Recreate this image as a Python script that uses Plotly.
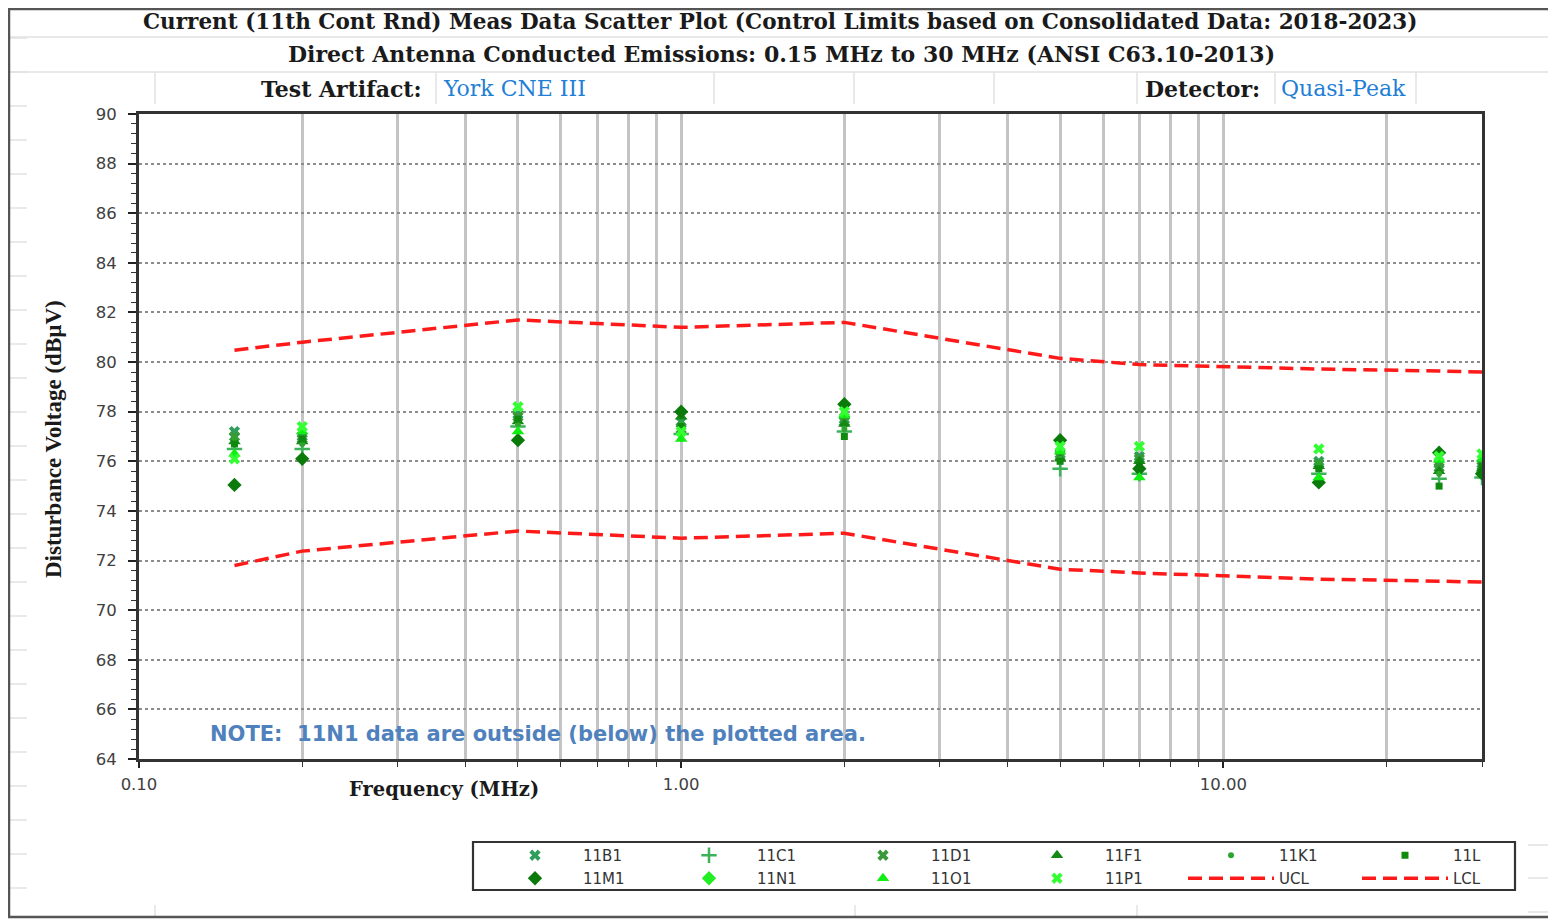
import plotly.graph_objects as go

# ---------------- data ----------------
FREQ_MHZ = [0.15, 0.2, 0.5, 1.0, 2.0, 5.0, 7.0, 15.0, 25.0, 30.0]

S_11B1 = [77.2, 77.0, 77.9, 77.6, 77.7, 76.3, 76.2, 76.0, 75.9, 75.9]
S_11C1 = [76.5, 76.5, 77.4, 77.1, 77.2, 75.7, 75.5, 75.5, 75.3, 75.35]
S_11D1 = [77.0, 76.9, 77.8, 77.3, 77.6, 76.2, 76.1, 75.9, 75.75, 75.8]
S_11F1 = [76.8, 76.8, 77.6, 77.8, 77.5, 76.1, 76.0, 75.8, 75.6, 75.7]
S_11K1 = [76.9, 76.7, 77.5, 77.5, 77.3, 76.1, 75.8, 75.9, 75.5, 75.6]
S_11L = [76.7, 76.9, 77.7, 77.4, 77.0, 76.0, 75.9, 75.7, 75.0, 75.8]
S_11M1 = [75.05, 76.1, 76.85, 78.0, 78.3, 76.85, 75.7, 75.15, 76.35, 75.5]
S_11N1 = [None] * 10   # outside (below) the plotted area
S_11O1 = [76.3, 77.2, 77.2, 76.9, 77.85, 76.4, 75.35, 75.35, 76.05, 76.1]
S_11P1 = [76.1, 77.4, 78.2, 77.2, 78.0, 76.6, 76.6, 76.5, 76.2, 76.3]

UCL = [80.48, 80.8, 81.7, 81.4, 81.6, 80.15, 79.9, 79.72, 79.64, 79.6]
LCL = [71.8, 72.38, 73.19, 72.9, 73.1, 71.65, 71.5, 71.25, 71.17, 71.13]

X_TICKS = [0.1, 1, 10]
X_TICK_TEXT = ["0.10", "1.00", "10.00"]
X_MINOR = [0.2, 0.3, 0.4, 0.5, 0.6, 0.7, 0.8, 0.9,
           2, 3, 4, 5, 6, 7, 8, 9, 20, 30]

# ---------------- layout helpers ----------------
OFF = 8                      # page body margin
FW, FH = 1556 - OFF, 919 - OFF
L, R, T, B = 139 - OFF, 74, 114 - OFF, 160
PW = FW - L - R
PH = FH - T - B


def px(x):
    """page pixel x -> paper fraction"""
    return (x - OFF - L) / PW


def py(y):
    """page pixel y -> paper fraction"""
    return (FH - B - (y - OFF)) / PH


SERIF_W = "DejaVu Serif, serif"
SERIF = "Liberation Serif, Times New Roman, serif"
SANS = "DejaVu Sans, Arial, sans-serif"

fig = go.Figure()

marker_specs = [
    ("11B1", S_11B1, "x", "#2e9e5b", 10, "legend"),
    ("11C1", S_11C1, "cross-thin-open", "#3cb35a", 11, "legend"),
    ("11D1", S_11D1, "x", "#3a9a3a", 10, "legend"),
    ("11F1", S_11F1, "triangle-up", "#148a14", 11, "legend"),
    ("11K1", S_11K1, "circle", "#2fa52f", 6, "legend"),
    ("11L", S_11L, "square", "#0f8a0f", 7, "legend"),
    ("11M1", S_11M1, "diamond", "#0a7a0a", 11, "legend2"),
    ("11N1", S_11N1, "diamond", "#22ee22", 11, "legend2"),
    ("11O1", S_11O1, "triangle-up", "#11ee11", 11, "legend2"),
    ("11P1", S_11P1, "x", "#33ff33", 10, "legend2"),
]

for name, vals, sym, col, size, leg in marker_specs:
    mk = dict(symbol=sym, color=col, size=size)
    if sym == "cross-thin-open":
        mk["line"] = dict(color=col, width=2.5)
    else:
        mk["line"] = dict(width=0)
    fig.add_trace(go.Scatter(
        x=FREQ_MHZ, y=vals, mode="markers", name=name,
        marker=mk, legend=leg, cliponaxis=True))

for name, vals in (("UCL", UCL), ("LCL", LCL)):
    fig.add_trace(go.Scatter(
        x=FREQ_MHZ, y=vals, mode="lines", name=name, legend="legend2",
        line=dict(color="#ff1a1a", width=3.5, dash="14px,7px")))

# ---------------- annotations ----------------
ann = []


def text(x, y, s, size, color="#1a1a1a", family=SERIF_W, xanchor="center",
         angle=0):
    ann.append(dict(x=px(x), y=py(y), xref="paper", yref="paper", text=s,
                    showarrow=False, xanchor=xanchor, yanchor="middle",
                    textangle=angle,
                    font=dict(family=family, size=size, color=color)))


text(780, 21, "<b>Current (11th Cont Rnd) Meas Data Scatter Plot (Control Limits "
     "based on Consolidated Data: 2018-2023)</b>", 21.5)
text(781, 54, "<b>Direct Antenna Conducted Emissions: 0.15 MHz to 30 MHz "
     "(ANSI C63.10-2013)</b>", 22)
text(424, 89, "<b>Test Artifact:</b>", 22, xanchor="right")
text(441, 89, "York CNE III", 22, color="#1f7fd6", xanchor="left")
text(1262, 89, "<b>Detector:</b>", 22, xanchor="right")
text(1279, 89, "Quasi-Peak", 22, color="#1f7fd6", xanchor="left")
text(444, 789, "<b>Frequency (MHz)</b>", 19.5)
text(53, 439, "<b>Disturbance Voltage (dBµV)</b>", 23, family=SERIF, angle=-90)
text(208, 734, "<b>NOTE:\u00a0 11N1 data are outside (below) the plotted area.</b>",
     21, color="#4f81bd", family=SANS, xanchor="left")

# ---------------- shapes (page decoration) ----------------
shapes = []
faint = "#e2e2e2"
for yy in (37, 72):
    shapes.append(dict(type="line", xref="paper", yref="paper",
                       x0=px(9), x1=px(1552), y0=py(yy), y1=py(yy),
                       line=dict(color=faint, width=1.5)))
for xx in (155, 436, 714, 854, 994, 1137, 1275, 1416):
    shapes.append(dict(type="line", xref="paper", yref="paper",
                       x0=px(xx), x1=px(xx), y0=py(72), y1=py(104),
                       line=dict(color=faint, width=1.5)))
for yy in range(38, 919, 34):
    shapes.append(dict(type="line", xref="paper", yref="paper",
                       x0=px(9), x1=px(27), y0=py(yy), y1=py(yy),
                       line=dict(color=faint, width=1.5)))
for yy in (845, 878, 912):
    shapes.append(dict(type="line", xref="paper", yref="paper",
                       x0=px(1528), x1=px(1552), y0=py(yy), y1=py(yy),
                       line=dict(color=faint, width=1.5)))
for xx in (155, 855, 1137):
    shapes.append(dict(type="line", xref="paper", yref="paper",
                       x0=px(xx), x1=px(xx), y0=py(905), y1=py(917),
                       line=dict(color=faint, width=1.5)))
# outer frame
shapes.append(dict(type="rect", xref="paper", yref="paper",
                   x0=px(9), x1=px(1552), y0=py(917), y1=py(9),
                   line=dict(color="#555555", width=2.5)))
# legend box
shapes.append(dict(type="rect", xref="paper", yref="paper",
                   x0=px(473), x1=px(1515), y0=py(890), y1=py(842),
                   line=dict(color="#333333", width=2.2),
                   fillcolor="white"))

legend_common = dict(orientation="h", xanchor="left", yanchor="top",
                     entrywidth=73, entrywidthmode="pixels", itemwidth=86,
                     font=dict(family=SANS, size=15, color="#333333"),
                     bgcolor="rgba(0,0,0,0)", borderwidth=0,
                     traceorder="normal", itemclick=False,
                     itemdoubleclick=False)

fig.update_layout(
    width=FW, height=FH,
    margin=dict(l=L, r=R, t=T, b=B, autoexpand=False),
    paper_bgcolor="white", plot_bgcolor="white",
    showlegend=True,
    legend=dict(x=px(487), y=py(839), **legend_common),
    legend2=dict(x=px(487), y=py(862), **legend_common),
    annotations=ann, shapes=shapes,
    xaxis=dict(
        type="log", range=[-1, 1.4771], tickvals=X_TICKS, ticktext=X_TICK_TEXT,
        showgrid=True, gridcolor="#c4c4c4", gridwidth=2.5,
        ticks="outside", ticklen=6, tickcolor="#222", tickwidth=1.5,
        tickfont=dict(family=SANS, size=16.5, color="#404040"),
        ticklabelstandoff=2,
        showline=True, linecolor="#333", linewidth=3, mirror=True,
        zeroline=False,
        minor=dict(tickvals=X_MINOR, showgrid=True, gridcolor="#c4c4c4",
                   gridwidth=2.5, ticks="outside", ticklen=5,
                   tickcolor="#333", tickwidth=1.2),
    ),
    yaxis=dict(
        range=[64, 90], tick0=64, dtick=2,
        showgrid=True, gridcolor="#8c8c8c", gridwidth=1.6, griddash="dot",
        ticks="outside", ticklen=8, tickcolor="#222", tickwidth=1.5,
        tickfont=dict(family=SANS, size=16.5, color="#404040"),
        ticklabelstandoff=8,
        showline=True, linecolor="#333", linewidth=3, mirror=True,
        zeroline=False,
        minor=dict(dtick=0.4, ticks="outside", ticklen=5, tickcolor="#333",
                   tickwidth=1.2, showgrid=False),
    ),
)

fig.write_html("out.html")
